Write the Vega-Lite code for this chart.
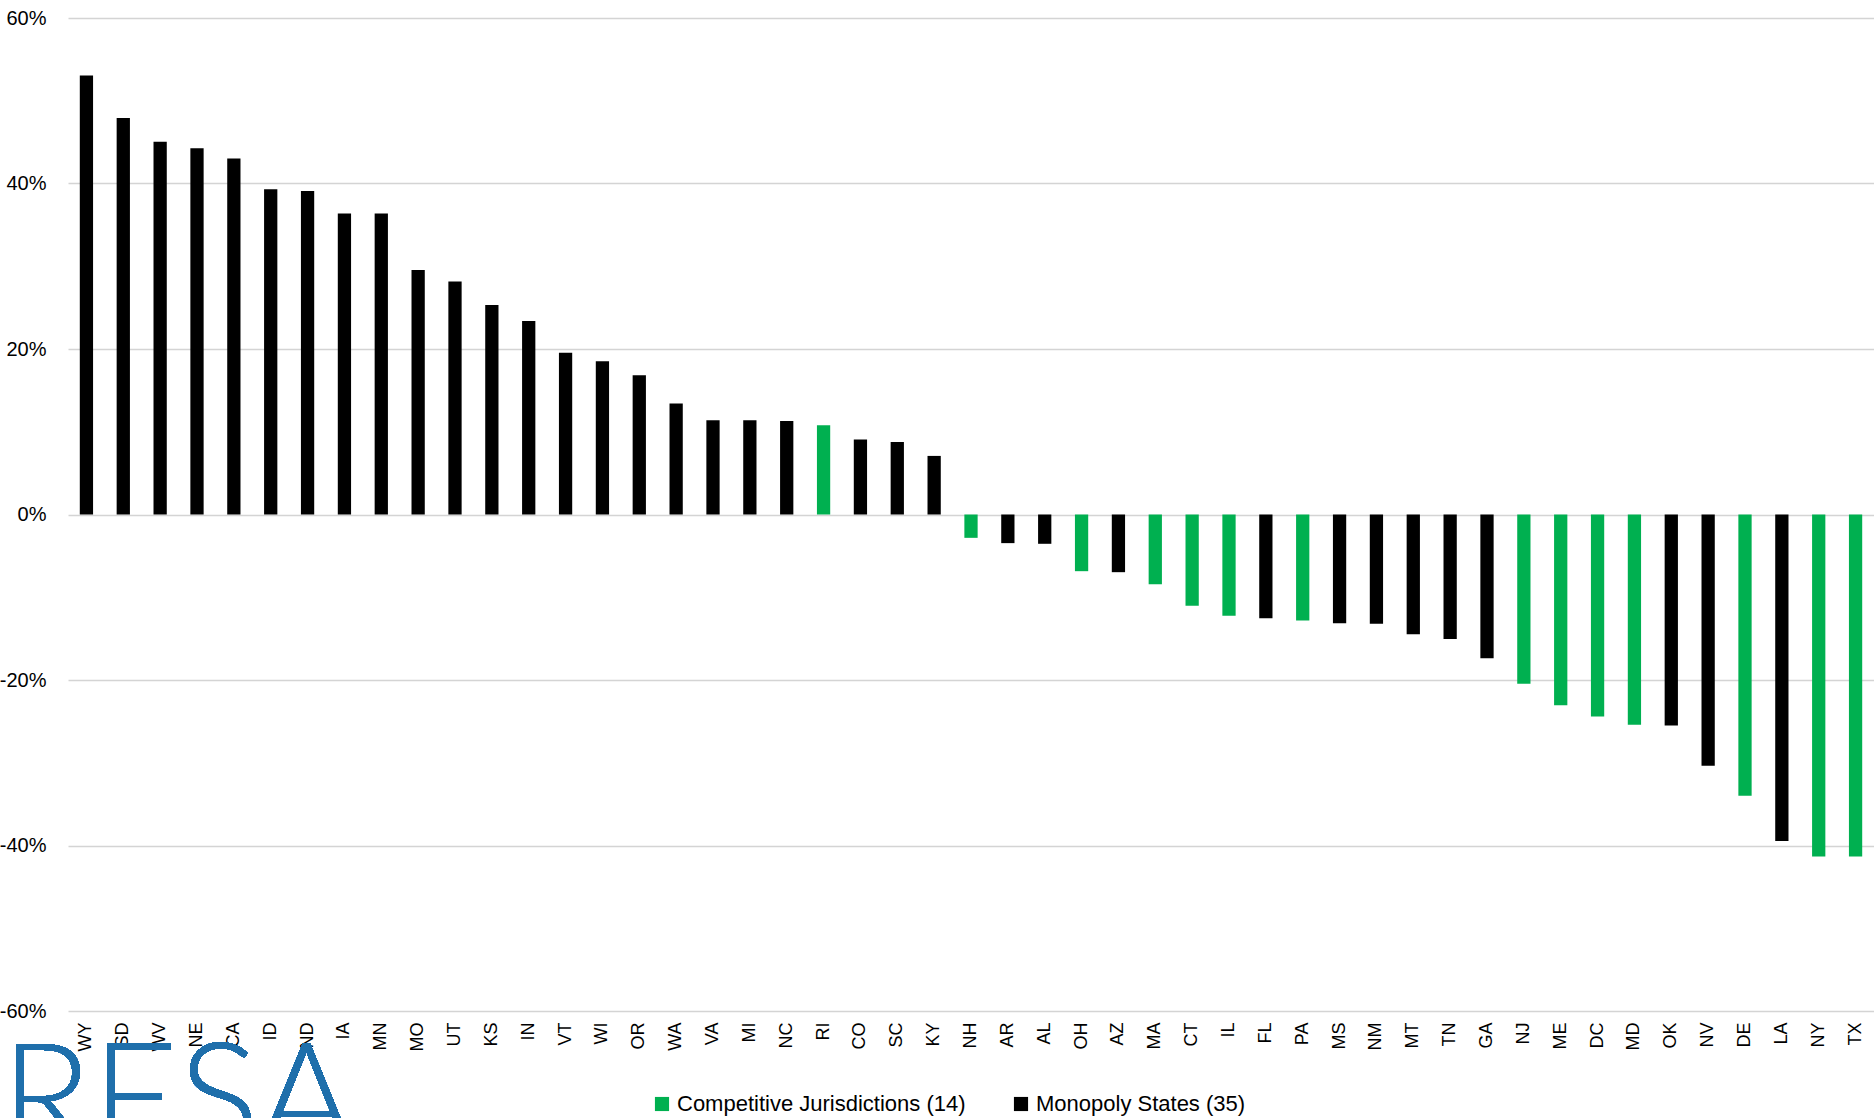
{
  "$schema": "https://vega.github.io/schema/vega-lite/v6.json",
  "width": 1806,
  "height": 993,
  "autosize": {"type": "none"},
  "padding": {"left": 68, "top": 18, "right": 0, "bottom": 107},
  "background": "white",
  "config": {
    "view": {"stroke": null},
    "font": "Liberation Sans"
  },
  "data": {
    "values": [
      {"state": "WY", "value": 0.5306, "type": "Monopoly States (35)"},
      {"state": "SD", "value": 0.4793, "type": "Monopoly States (35)"},
      {"state": "WV", "value": 0.4504, "type": "Monopoly States (35)"},
      {"state": "NE", "value": 0.4426, "type": "Monopoly States (35)"},
      {"state": "CA", "value": 0.4301, "type": "Monopoly States (35)"},
      {"state": "ID", "value": 0.393, "type": "Monopoly States (35)"},
      {"state": "ND", "value": 0.3909, "type": "Monopoly States (35)"},
      {"state": "IA", "value": 0.3637, "type": "Monopoly States (35)"},
      {"state": "MN", "value": 0.3637, "type": "Monopoly States (35)"},
      {"state": "MO", "value": 0.2955, "type": "Monopoly States (35)"},
      {"state": "UT", "value": 0.2817, "type": "Monopoly States (35)"},
      {"state": "KS", "value": 0.2532, "type": "Monopoly States (35)"},
      {"state": "IN", "value": 0.2338, "type": "Monopoly States (35)"},
      {"state": "VT", "value": 0.1954, "type": "Monopoly States (35)"},
      {"state": "WI", "value": 0.1851, "type": "Monopoly States (35)"},
      {"state": "OR", "value": 0.1682, "type": "Monopoly States (35)"},
      {"state": "WA", "value": 0.1342, "type": "Monopoly States (35)"},
      {"state": "VA", "value": 0.1139, "type": "Monopoly States (35)"},
      {"state": "MI", "value": 0.1139, "type": "Monopoly States (35)"},
      {"state": "NC", "value": 0.113, "type": "Monopoly States (35)"},
      {"state": "RI", "value": 0.1079, "type": "Competitive Jurisdictions (14)"},
      {"state": "CO", "value": 0.0906, "type": "Monopoly States (35)"},
      {"state": "SC", "value": 0.0876, "type": "Monopoly States (35)"},
      {"state": "KY", "value": 0.0708, "type": "Monopoly States (35)"},
      {"state": "NH", "value": -0.0282, "type": "Competitive Jurisdictions (14)"},
      {"state": "AR", "value": -0.0346, "type": "Monopoly States (35)"},
      {"state": "AL", "value": -0.0354, "type": "Monopoly States (35)"},
      {"state": "OH", "value": -0.0685, "type": "Competitive Jurisdictions (14)"},
      {"state": "AZ", "value": -0.0697, "type": "Monopoly States (35)"},
      {"state": "MA", "value": -0.0842, "type": "Competitive Jurisdictions (14)"},
      {"state": "CT", "value": -0.1103, "type": "Competitive Jurisdictions (14)"},
      {"state": "IL", "value": -0.1224, "type": "Competitive Jurisdictions (14)"},
      {"state": "FL", "value": -0.1253, "type": "Monopoly States (35)"},
      {"state": "PA", "value": -0.1281, "type": "Competitive Jurisdictions (14)"},
      {"state": "MS", "value": -0.1313, "type": "Monopoly States (35)"},
      {"state": "NM", "value": -0.1321, "type": "Monopoly States (35)"},
      {"state": "MT", "value": -0.1446, "type": "Monopoly States (35)"},
      {"state": "TN", "value": -0.1506, "type": "Monopoly States (35)"},
      {"state": "GA", "value": -0.1736, "type": "Monopoly States (35)"},
      {"state": "NJ", "value": -0.2046, "type": "Competitive Jurisdictions (14)"},
      {"state": "ME", "value": -0.2304, "type": "Competitive Jurisdictions (14)"},
      {"state": "DC", "value": -0.2441, "type": "Competitive Jurisdictions (14)"},
      {"state": "MD", "value": -0.2541, "type": "Competitive Jurisdictions (14)"},
      {"state": "OK", "value": -0.2549, "type": "Monopoly States (35)"},
      {"state": "NV", "value": -0.3037, "type": "Monopoly States (35)"},
      {"state": "DE", "value": -0.3399, "type": "Competitive Jurisdictions (14)"},
      {"state": "LA", "value": -0.3947, "type": "Monopoly States (35)"},
      {"state": "NY", "value": -0.4133, "type": "Competitive Jurisdictions (14)"},
      {"state": "TX", "value": -0.4133, "type": "Competitive Jurisdictions (14)"}
    ]
  },
  "layer": [
    {
      "mark": {
        "type": "text",
        "text": "RESA",
        "font": "Lato",
        "fontWeight": 300,
        "fontSize": 150,
        "color": "#1f6fab",
        "align": "left",
        "baseline": "top",
        "dx": -86,
        "dy": 20
      },
      "encoding": {
        "x": {"datum": "WY", "type": "nominal"},
        "y": {"datum": -0.6, "type": "quantitative"}
      }
    },
    {
      "mark": {"type": "bar"},
      "encoding": {
        "x": {
          "field": "state",
          "type": "nominal",
          "sort": null,
          "scale": {"paddingInner": 0.64, "paddingOuter": 0.32},
          "axis": {
            "title": null,
            "labelAngle": -90,
            "labelFontSize": 18,
            "labelColor": "#000000",
            "labelPadding": 11,
            "ticks": false,
            "domain": false,
            "grid": false
          }
        },
        "y": {
          "field": "value",
          "type": "quantitative",
          "scale": {"domain": [-0.6, 0.6], "nice": false},
          "axis": {
            "title": null,
            "values": [-0.6, -0.4, -0.2, 0, 0.2, 0.4, 0.6],
            "format": ".0%",
            "labelExpr": "replace(datum.label, '\u2212', '-')",
            "labelFontSize": 20,
            "labelColor": "#000000",
            "labelPadding": 22,
            "ticks": false,
            "domain": false,
            "grid": true,
            "gridColor": "#d4d4d4",
            "gridWidth": 1.5
          }
        },
        "color": {
          "field": "type",
          "type": "nominal",
          "scale": {
            "domain": ["Competitive Jurisdictions (14)", "Monopoly States (35)"],
            "range": ["#00B050", "#000000"]
          },
          "legend": {
            "title": null,
            "orient": "none",
            "legendX": 583,
            "legendY": 1075,
            "direction": "horizontal",
            "symbolType": "square",
            "symbolSize": 200,
            "symbolStrokeWidth": 0,
            "symbolOffset": 0,
            "labelOffset": 4,
            "labelFontSize": 22,
            "labelLimit": 500,
            "labelColor": "#000000",
            "columnPadding": 44
          }
        }
      }
    }
  ]
}
